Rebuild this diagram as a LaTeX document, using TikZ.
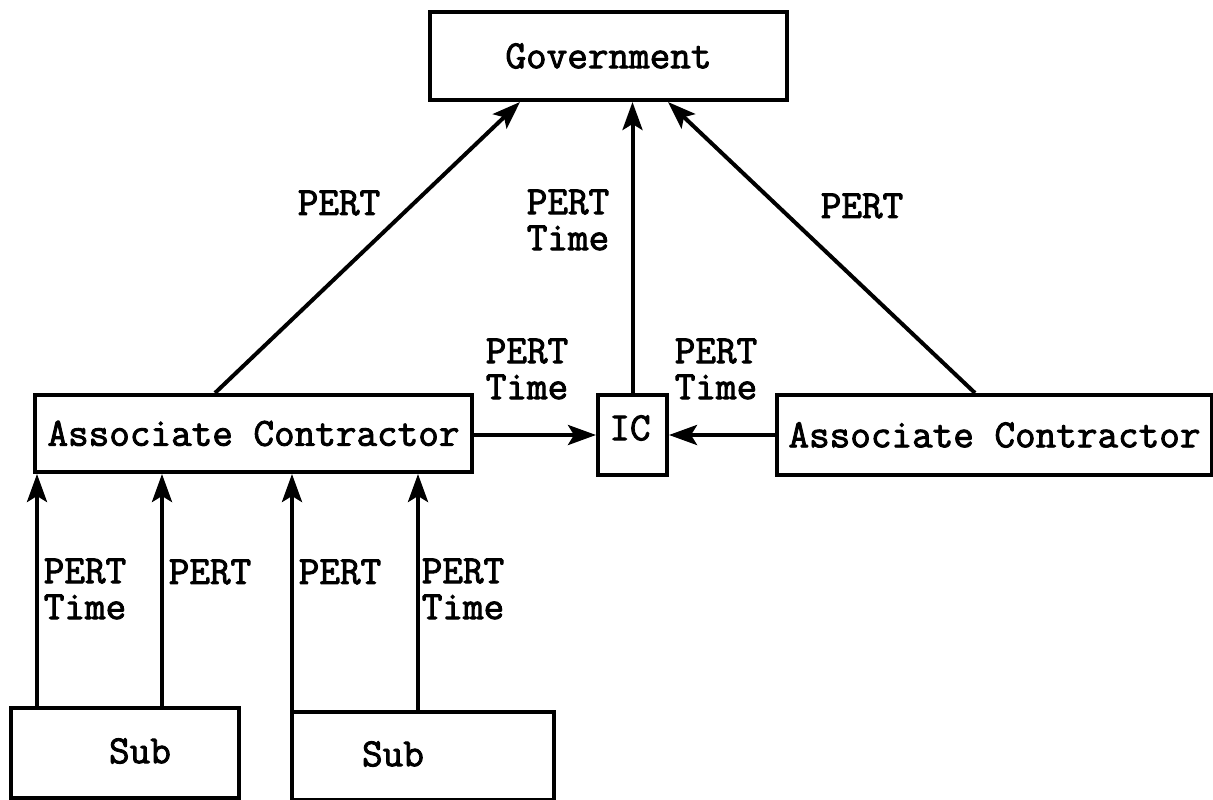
\documentclass[tikz,border=0pt]{standalone}
\usepackage{fontspec}
\setmonofont[AutoFakeBold=2.2]{Latin Modern Mono}
\usetikzlibrary{arrows.meta}
\begin{document}
\begin{tikzpicture}[x=1pt,y=-1pt,
  every node/.style={font=\ttfamily\bfseries\fontsize{40}{36}\selectfont},
  box/.style={draw,line width=4pt,inner sep=0pt,anchor=north west},
  lbl/.style={align=left,inner sep=0pt},
  flow/.style={line width=4pt,-{Stealth[length=28pt,width=20pt,inset=6pt]}}]
  \useasboundingbox[fill=white] (0,0) rectangle (1213,800);

  % organisation boxes
  \node[box,minimum width=357pt,minimum height=88pt] (gov) at (428,10) {Government};
  \node[box,minimum width=437pt,minimum height=77pt] (acL) at (33,393) {Associate Contractor};
  \node[box,minimum width=69pt,minimum height=80pt] (ic) at (596,393) {};
  \node at (630,428) (icT) {IC};
  \node[box,minimum width=435pt,minimum height=80pt] (acR) at (775,393) {Associate Contractor};
  \node[box,minimum width=228pt,minimum height=90pt] (subL) at (9,706) {};
  \node at (140,751) (subLT) {Sub};
  \node[box,minimum width=262pt,minimum height=88pt] (subR) at (290,710) {};
  \node at (393,754) (subRT) {Sub};

  % reporting lines to the government
  \draw[flow] ([xshift=182pt]acL.north west) -- ([xshift=92pt]gov.south west);
  \draw[flow] (ic.north) -- (ic.north |- gov.south);
  \draw[flow] ([xshift=200pt]acR.north west) -- ([xshift=240pt]gov.south west);

  % reporting lines to the integrating contractor
  \draw[flow] (acL.east |- ic.west) -- (ic.west);
  \draw[flow] (acR.west |- ic.east) -- (ic.east);

  % subcontractor reporting
  \draw[flow] ([xshift=28pt]subL.north west) -- ([xshift=28pt]subL.north west |- acL.south);
  \draw[flow] ([xshift=153pt]subL.north west) -- ([xshift=153pt]subL.north west |- acL.south);
  \draw[flow] ([xshift=2pt]subR.north west) -- ([xshift=2pt]subR.north west |- acL.south);
  \draw[flow] ([xshift=128pt]subR.north west) -- ([xshift=128pt]subR.north west |- acL.south);

  % connector labels
  \node[lbl] (l1) at (339,203) {PERT};
  \node[lbl] (l2) at (568,220) {PERT\\Time};
  \node[lbl] (l3) at (862,206) {PERT};
  \node[lbl] (l4) at (527,369) {PERT\\Time};
  \node[lbl] (l5) at (716,369) {PERT\\Time};
  \node[lbl] (l6) at (85,589) {PERT\\Time};
  \node[lbl] (l7) at (210,572) {PERT};
  \node[lbl] (l8) at (340,572) {PERT};
  \node[lbl] (l9) at (463,589) {PERT\\Time};
\end{tikzpicture}
\end{document}
